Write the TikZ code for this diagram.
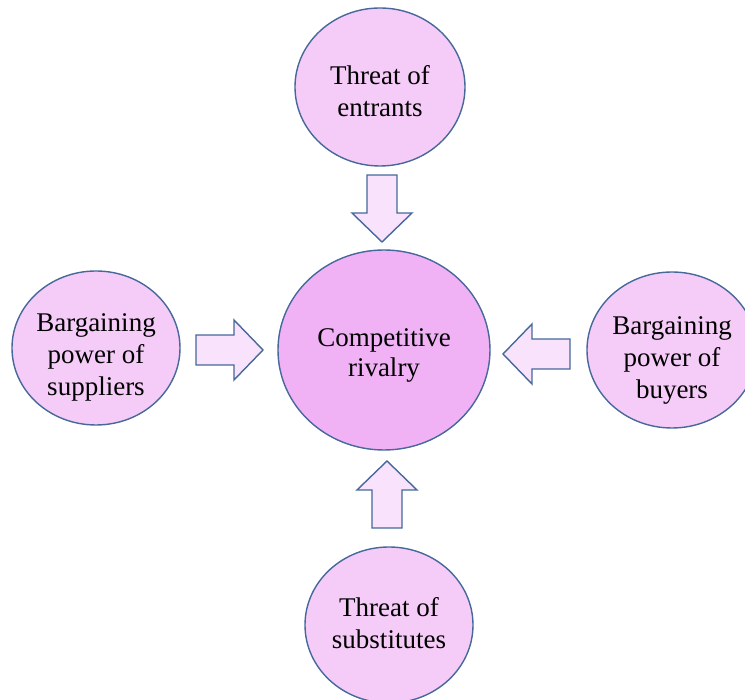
\documentclass[tikz,border=0pt]{standalone}
\usepackage{fontspec}
\setmainfont{Liberation Serif}
\usetikzlibrary{positioning,shapes.geometric}

\definecolor{forcefill}{HTML}{F5CBF7}
\definecolor{rivalfill}{HTML}{F0B2F5}
\definecolor{arrowfill}{HTML}{F9E2FB}
\definecolor{rimblue}{HTML}{46689A}

\tikzset{
  force/.style={ellipse, draw=rimblue, line width=1.4pt, fill=forcefill, inner sep=0pt},
  rival/.style={force, fill=rivalfill},
  forcetext/.style={align=center, inner sep=0pt, font=\fontsize{27}{32}\selectfont},
  rivaltext/.style={forcetext, font=\fontsize{27}{30}\selectfont},
  arrowbox/.style={draw=rimblue, line width=1.4pt, fill=arrowfill, line join=miter},
  pics/blockarr/.style={code={
    \draw[arrowbox] (0,-15) -- (38,-15) -- (38,-30) -- (67,0) -- (38,30) -- (38,15) -- (0,15) -- cycle;
  }}
}

\begin{document}
\begin{tikzpicture}[x=1pt, y=1pt]
        \useasboundingbox (-384,-350) rectangle (361,350);

        % Centro
        \node[rival, minimum width=212pt, minimum height=200pt] (rivalry) at (0,0) {};
        \node[rivaltext] (rivalrytext) at ([yshift=-5pt]rivalry.center) {Competitive\\rivalry};

        % Le quattro forze
        \node[force, minimum width=170pt, minimum height=158pt] (entrants) at (-4,263) {};
        \node[force, minimum width=168pt, minimum height=154pt] (suppliers) at (-288,2) {};
        \node[force, minimum width=170pt, minimum height=156pt] (buyers) at (288,0) {};
        \node[force, minimum width=168pt, minimum height=156pt] (substitutes) at (5,-275) {};

        \node[forcetext] (entrantstext) at ([yshift=-4pt]entrants.center) {Threat of\\entrants};
        \node[forcetext] (supplierstext) at ([yshift=-9pt]suppliers.center) {Bargaining\\power of\\suppliers};
        \node[forcetext] (buyerstext) at ([yshift=-10pt]buyers.center) {Bargaining\\power of\\buyers};
        \node[forcetext] (substitutestext) at ([yshift=2pt]substitutes.center) {Threat of\\substitutes};

        % Frecce verso il centro
        \pic[rotate=-90] (arrtop) at (-2,175) {blockarr};
        \pic (arrleft) at (-188,0) {blockarr};
        \pic[rotate=180] (arrright) at (186,-4) {blockarr};
        \pic[rotate=90] (arrbottom) at (3,-178) {blockarr};

\end{tikzpicture}
\end{document}
